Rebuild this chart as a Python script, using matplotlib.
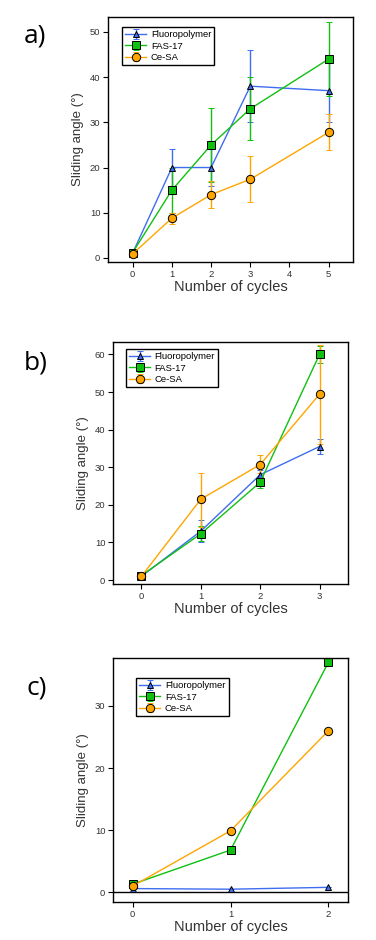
import matplotlib
matplotlib.use('Agg')
import matplotlib.pyplot as plt

plt.rcParams['font.family'] = ['Liberation Sans', 'DejaVu Sans']

W, H = 376, 940

series = ['Fluoropolymer', 'FAS-17', 'Ce-SA']
colors = ['#3f6df0', '#10c010', '#ffa500']
markers = ['^', 's', 'o']
msizes = [5, 6, 6]

# panel a
a_x = [0, 1, 2, 3, 5]
a_fluoro = [1.1, 20, 20, 38, 37]
a_fluoro_err = [0.5, 4, 4, 8, 7]
a_fas = [1.2, 15, 25, 33, 44]
a_fas_err = [0.5, 5, 8.2, 7, 8.1]
a_cesa = [0.9, 8.8, 14, 17.4, 27.8]
a_cesa_err_lo = [0.7, 1.3, 2.9, 5.0, 3.9]
a_cesa_err_hi = [0.9, 1.2, 3.0, 5.2, 4.1]

# panel b
b_x = [0, 1, 2, 3]
b_fluoro = [1.0, 13, 28, 35.5]
b_fluoro_err = [0.5, 2.9, 1.2, 2.1]
b_fas = [1.2, 12.3, 26, 60]
b_fas_err = [0.5, 2.0, 1.6, 2.2]
b_cesa = [1.0, 21.5, 30.7, 49.4]
b_cesa_err_lo = [1.0, 7.3, 2.3, 13.1]
b_cesa_err_hi = [1.0, 6.9, 2.5, 13.1]

# panel c
c_x = [0, 1, 2]
c_fluoro = [0.6, 0.5, 0.8]
c_fas = [1.3, 6.8, 37.0]
c_cesa = [1.0, 9.9, 26.0]
c_err = [0.5, 0.0, 0.0]

fig = plt.figure(figsize=(W / 100, H / 100), dpi=100)


def make_axes(left, right, top, bottom):
    return fig.add_axes([left / W, (H - bottom) / H, (right - left) / W, (bottom - top) / H])


def style(ax, xticks, yticks, xlim, ylim, leg_xy):
    ax.set_xlim(*xlim)
    ax.set_ylim(*ylim)
    ax.set_xticks(xticks)
    ax.set_yticks(yticks)
    ax.tick_params(direction='out', length=3.5, width=0.8, labelsize=6.8,
                   labelcolor='#333333', pad=2)
    for s in ax.spines.values():
        s.set_linewidth(1.0)
    ax.set_xlabel('Number of cycles', fontsize=10.5, color='#333333', labelpad=1)
    ax.set_ylabel('Sliding angle (°)', fontsize=9.5, color='#333333', labelpad=4)
    leg = ax.legend(loc='upper left', bbox_to_anchor=leg_xy, fontsize=6.8, frameon=True,
                    fancybox=False, edgecolor='black', framealpha=1, handlelength=2.2,
                    borderpad=0.35, labelspacing=0.25, handletextpad=0.5, borderaxespad=0)
    leg.get_frame().set_linewidth(1.0)


def draw(ax, x, ys, errs):
    for i, name in enumerate(series):
        ax.errorbar(x, ys[i], yerr=errs[i], color=colors[i], marker=markers[i],
                    markersize=msizes[i], markeredgecolor='black', markeredgewidth=0.7,
                    linewidth=1.0, elinewidth=1.0, capsize=2.5, capthick=1.0, label=name)


ax = make_axes(108, 353, 17, 262)
draw(ax, a_x, [a_fluoro, a_fas, a_cesa],
     [a_fluoro_err, a_fas_err, [a_cesa_err_lo, a_cesa_err_hi]])
style(ax, [0, 1, 2, 3, 4, 5], [0, 10, 20, 30, 40, 50], (-0.63, 5.62), (-0.9, 53.3), (0.057, 0.959))
fig.text(24 / W, 1 - 36 / H, 'a)', fontsize=19, family='Open Sans', va='center', ha='left')

ax = make_axes(113, 348, 342, 584)
draw(ax, b_x, [b_fluoro, b_fas, b_cesa],
     [b_fluoro_err, b_fas_err, [b_cesa_err_lo, b_cesa_err_hi]])
style(ax, [0, 1, 2, 3], [0, 10, 20, 30, 40, 50, 60], (-0.48, 3.48), (-1.06, 63.3), (0.055, 0.971))
fig.text(24 / W, 1 - 363 / H, 'b)', fontsize=19, family='Open Sans', va='center', ha='left')

ax = make_axes(113, 348, 658, 902)
draw(ax, c_x, [c_fluoro, c_fas, c_cesa], [c_err, c_err, c_err])
ax.axhline(0, color='black', linewidth=1.0, zorder=0)
style(ax, [0, 1, 2], [0, 10, 20, 30], (-0.2, 2.2), (-1.56, 37.7), (0.098, 0.918))
fig.text(26 / W, 1 - 688 / H, 'c)', fontsize=19, family='Open Sans', va='center', ha='left')

fig.savefig('out.png', dpi=100)
